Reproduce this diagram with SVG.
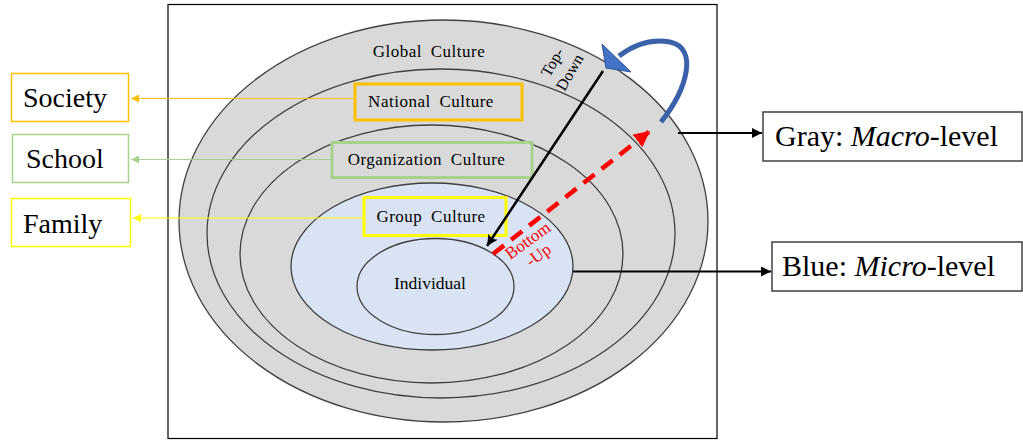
<svg xmlns="http://www.w3.org/2000/svg" width="1023" height="440" viewBox="0 0 1023 440">
<defs>
<style>
.ring{fill:#D9D9D9;stroke:#404040;stroke-width:1.3}
.blue{fill:#DAE3F3;stroke:#404040;stroke-width:1.3}
.lbl{font-family:"Liberation Serif","Times New Roman",serif;font-size:17px;fill:#000;letter-spacing:0.5px;word-spacing:4px}
.big{font-family:"Liberation Serif","Times New Roman",serif;font-size:28px;fill:#000}
.lvl{font-family:"Liberation Serif","Times New Roman",serif;font-size:30px;fill:#000}
.dir{font-family:"Liberation Serif","Times New Roman",serif;font-size:16px}
</style>
<marker id="ahK" viewBox="0 0 10 10" refX="10" refY="5" markerWidth="10" markerHeight="10" markerUnits="userSpaceOnUse" orient="auto"><path d="M0,0L10,5L0,10z" fill="#000"/></marker>
<marker id="ahT" viewBox="0 0 10 10" refX="10" refY="5" markerWidth="13" markerHeight="11" markerUnits="userSpaceOnUse" orient="auto"><path d="M0,0L10,5L0,10L2,5z" fill="#000"/></marker>
<marker id="ahR" viewBox="0 0 10 10" refX="10" refY="5" markerWidth="16" markerHeight="16" markerUnits="userSpaceOnUse" orient="auto"><path d="M0,0L10,5L0,10z" fill="#FF0000"/></marker>
<marker id="ahO" viewBox="0 0 10 10" refX="10" refY="5" markerWidth="9" markerHeight="8" markerUnits="userSpaceOnUse" orient="auto"><path d="M0,0L10,5L0,10z" fill="#FFC000"/></marker>
<marker id="ahG" viewBox="0 0 10 10" refX="10" refY="5" markerWidth="9" markerHeight="8" markerUnits="userSpaceOnUse" orient="auto"><path d="M0,0L10,5L0,10z" fill="#A9D18E"/></marker>
<marker id="ahY" viewBox="0 0 10 10" refX="10" refY="5" markerWidth="9" markerHeight="8" markerUnits="userSpaceOnUse" orient="auto"><path d="M0,0L10,5L0,10z" fill="#FFFF00"/></marker>
</defs>
<rect width="1023" height="440" fill="#fff"/>
<rect x="168" y="4.5" width="549" height="434" fill="#fff" stroke="#000" stroke-width="1.2"/>

<g id="global"><ellipse class="ring" cx="443.5" cy="221" rx="264.5" ry="201"/><text class="lbl" x="429" y="57" text-anchor="middle">Global Culture</text></g>
<g id="national"><ellipse class="ring" cx="441" cy="233.5" rx="234" ry="164.5"/></g>
<g id="organization"><ellipse class="ring" cx="431.5" cy="254" rx="191.5" ry="129"/></g>
<g id="group"><ellipse class="blue" cx="432" cy="266.5" rx="141" ry="83.5"/></g>
<g id="individual"><ellipse class="blue" cx="435.5" cy="286.5" rx="78.5" ry="48"/><text class="lbl" x="430" y="289" text-anchor="middle" style="letter-spacing:0;font-size:17.5px">Individual</text></g>

<g id="national-box"><rect x="355" y="84" width="167" height="36" fill="none" stroke="#FFC000" stroke-width="3"/><text class="lbl" x="431" y="107" text-anchor="middle">National Culture</text></g>
<g id="organization-box"><rect x="332" y="142.5" width="200" height="35" fill="none" stroke="#A9D18E" stroke-width="3"/><text class="lbl" x="426.5" y="165" text-anchor="middle">Organization Culture</text></g>
<g id="group-box"><rect x="364" y="197.5" width="142" height="38" fill="none" stroke="#FFFF00" stroke-width="3"/><text class="lbl" x="431" y="222" text-anchor="middle">Group Culture</text></g>

<g id="society"><rect x="11.5" y="73.5" width="117" height="48" fill="#fff" stroke="#FFC000" stroke-width="1.5"/><text class="big" x="23" y="107">Society</text></g>
<g id="school"><rect x="12.5" y="134.5" width="116" height="48" fill="#fff" stroke="#A9D18E" stroke-width="1.5"/><text class="big" x="26" y="168">School</text></g>
<g id="family"><rect x="11.5" y="198.5" width="119" height="48" fill="#fff" stroke="#FFFF00" stroke-width="1.5"/><text class="big" x="23" y="233">Family</text></g>

<g id="macro"><rect x="763" y="112" width="259" height="49" fill="#fff" stroke="#404040" stroke-width="1.5"/><text class="lvl" x="775" y="146">Gray: <tspan font-style="italic">Macro</tspan>-level</text></g>
<g id="micro"><rect x="772" y="242" width="250" height="49" fill="#fff" stroke="#404040" stroke-width="1.5"/><text class="lvl" x="782" y="276">Blue: <tspan font-style="italic">Micro</tspan>-level</text></g>

<g id="connectors">
<line x1="354" y1="98.5" x2="131" y2="98.5" stroke="#FFC000" stroke-width="1" marker-end="url(#ahO)"/>
<line x1="331" y1="159.5" x2="131" y2="159.5" stroke="#A9D18E" stroke-width="1" marker-end="url(#ahG)"/>
<line x1="363" y1="218" x2="133" y2="218" stroke="#FFFF00" stroke-width="1" marker-end="url(#ahY)"/>
<line x1="678" y1="133" x2="762" y2="133" stroke="#000" stroke-width="2" marker-end="url(#ahK)"/>
<line x1="573" y1="271.5" x2="771" y2="271.5" stroke="#000" stroke-width="2" marker-end="url(#ahK)"/>
<line x1="603" y1="71" x2="487" y2="246" stroke="#000" stroke-width="2.5" marker-end="url(#ahT)"/>
<line x1="493" y1="254" x2="650" y2="131" stroke="#FF0000" stroke-width="4.5" stroke-dasharray="14 9" marker-end="url(#ahR)"/>
<path d="M661,122 C688,88 698,48 670,42 C650,38 632,46 619,56" fill="none" stroke="#3B62A8" stroke-width="5"/>
<path d="M602,44 L631,72 L606,68 z" fill="#4472C4" stroke="#2F5597" stroke-width="1"/>
<text class="dir" fill="#000" text-anchor="middle" transform="translate(557,65) rotate(-60)">Top-<tspan x="0" dy="20">Down</tspan></text>
<text class="dir" fill="#FF0000" text-anchor="middle" style="font-size:17px" transform="translate(531,245) rotate(-36)">Bottom<tspan x="0" dy="18">-Up</tspan></text>
</g>
</svg>
